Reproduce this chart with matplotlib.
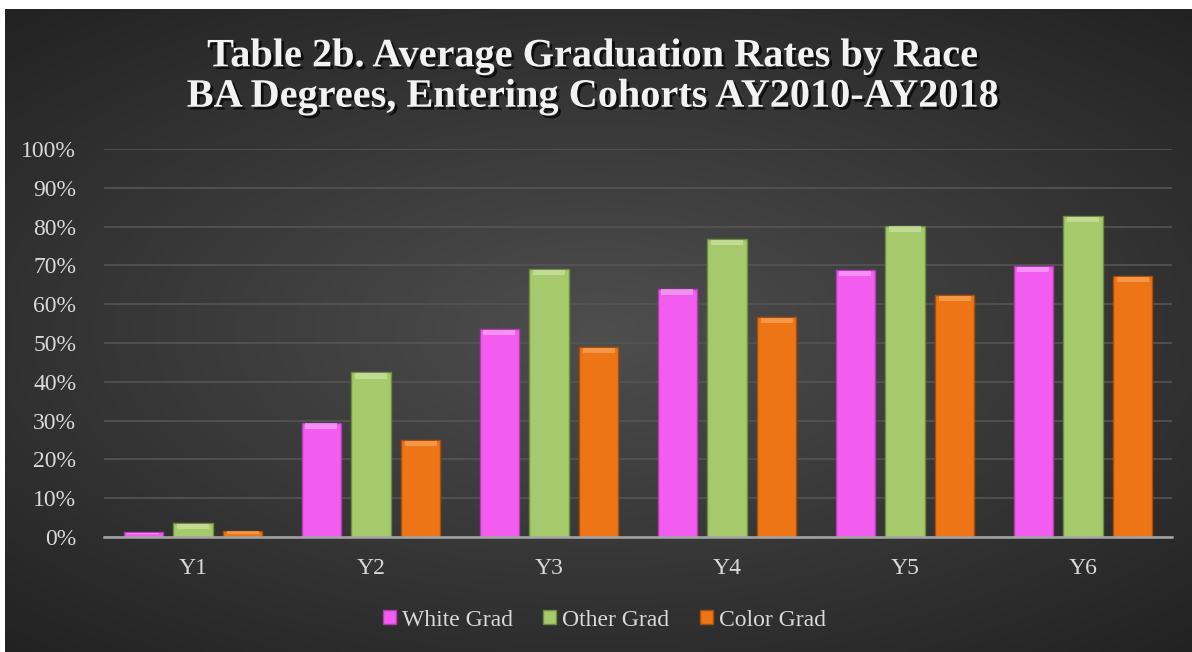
import matplotlib
matplotlib.use("Agg")
import matplotlib.pyplot as plt
import matplotlib.patheffects as pe
import numpy as np
from matplotlib.ticker import PercentFormatter

# values
YEARS = ["Y1", "Y2", "Y3", "Y4", "Y5", "Y6"]
WHITE_GRAD = [1.3, 29.5, 53.5, 64.0, 68.8, 69.8]
OTHER_GRAD = [3.6, 42.4, 69.0, 76.8, 80.2, 82.7]
COLOR_GRAD = [1.6, 25.0, 48.9, 56.6, 62.3, 67.2]

SERIES = [
    ("White Grad", WHITE_GRAD, "#f25df0", "#b03cb0", "#f9a6f7"),
    ("Other Grad", OTHER_GRAD, "#a5c96b", "#6f8c3e", "#cfe3a6"),
    ("Color Grad", COLOR_GRAD, "#ee7515", "#a84e0a", "#f7a65c"),
]

W, H = 1192, 652
fig = plt.figure(figsize=(W / 100, H / 100), dpi=100, facecolor="white")

# dark radial-gradient background (white strip left/top like the screenshot)
bg = fig.add_axes([5 / W, 0, 1 - 5 / W, 1 - 9 / H])
bg.set_axis_off()
yy, xx = np.mgrid[-1:1:300j, -1:1:550j]
r = np.sqrt((xx * 0.9) ** 2 + (yy * 1.0) ** 2)
shade = np.clip(1 - r / 1.35, 0, 1)
lo, hi = np.array([0x22, 0x22, 0x22]) / 255, np.array([0x4e, 0x4e, 0x4e]) / 255
img = lo + (hi - lo) * shade[..., None]
bg.imshow(img, aspect="auto", extent=[0, 1, 0, 1])

ax = fig.add_axes([104 / W, (H - 537) / H, (1172 - 104) / W, (537 - 149) / H])
ax.set_facecolor("none")

x = np.arange(len(YEARS))
bw = 0.22
step = 0.28
for i, (name, vals, face, edge, light) in enumerate(SERIES):
    pos = x + (i - 1) * step
    ax.bar(pos, vals, width=bw, color=face, edgecolor=edge, linewidth=1.0,
           label=name, zorder=3)
    # bevel-ish highlight along the top of each bar
    vals = np.array(vals)
    cap = np.minimum(1.4, vals * 0.35)
    ax.bar(pos, cap, bottom=vals - cap - 0.15, width=bw * 0.82, color=light,
           linewidth=0, alpha=0.7, zorder=4)

ax.set_xlim(-0.5, len(YEARS) - 0.5)
ax.set_ylim(0, 100)
ax.set_yticks(np.arange(0, 101, 10))
ax.yaxis.set_major_formatter(PercentFormatter(decimals=0))
ax.set_xticks(x)
ax.set_xticklabels(YEARS)
ax.grid(axis="y", color="#555555", linewidth=1.2, zorder=0)
for s in ["top", "right", "left"]:
    ax.spines[s].set_visible(False)
ax.spines["bottom"].set_color("#a6a6a6")
ax.spines["bottom"].set_linewidth(1.8)
ax.spines["bottom"].set_zorder(5)
ax.tick_params(axis="both", length=0, colors="#d9d9d9", labelsize=17)
ax.tick_params(axis="x", pad=15)
ax.tick_params(axis="y", pad=20)
for lab in ax.get_xticklabels() + ax.get_yticklabels():
    lab.set_family("Liberation Serif")

fig.text(0.497, 1 - 77 / H, "Table 2b. Average Graduation Rates by Race\nBA Degrees, Entering Cohorts AY2010-AY2018",
         ha="center", va="center", fontsize=29, fontweight="bold", color="#f2f2f2",
         family="Liberation Serif", linespacing=1.12,
         path_effects=[pe.withSimplePatchShadow(offset=(2, -2), shadow_rgbFace="black", alpha=0.7)])

leg = fig.legend(loc="center", bbox_to_anchor=(0.507, 1 - 620 / H), ncol=3, frameon=False,
                 prop={"family": "Liberation Serif", "size": 17},
                 handlelength=0.55, handleheight=0.55, handletextpad=0.25, columnspacing=1.3)
for t in leg.get_texts():
    t.set_color("#d9d9d9")

plt.savefig("out.png", dpi=100, facecolor="white")
